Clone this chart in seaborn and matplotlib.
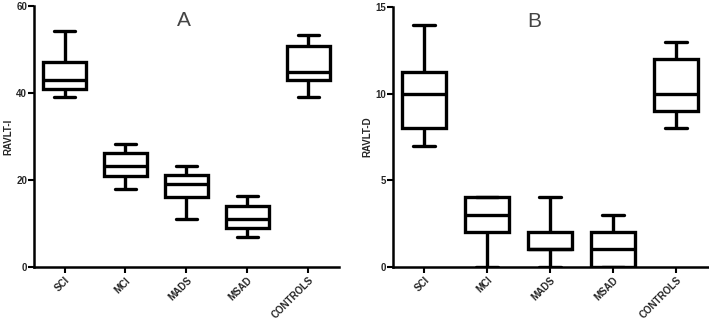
import pandas as pd
import matplotlib
matplotlib.use("Agg")
import matplotlib.pyplot as plt
import seaborn as sns

# groups
groups = ["SCI", "MCI", "MADS", "MSAD", "CONTROLS"]

# panel A: RAVLT-I five-number summaries (min, q1, median, q3, max)
ravlt_i_min = [39, 18, 11, 7, 39]
ravlt_i_q1 = [41, 21, 16, 9, 43]
ravlt_i_med = [43, 23.3, 19, 11, 44.8]
ravlt_i_q3 = [47.2, 26.2, 21.2, 14.1, 50.7]
ravlt_i_max = [54.2, 28.3, 23.2, 16.2, 53.3]

# panel B: RAVLT-D five-number summaries
ravlt_d_min = [7, 0, 0, 0, 8]
ravlt_d_q1 = [8, 2, 1, 0, 9]
ravlt_d_med = [10, 3, 1, 1, 10]
ravlt_d_q3 = [11.25, 4, 2, 2, 12]
ravlt_d_max = [14, 4, 4, 3, 13]


def make_df(mins, q1s, meds, q3s, maxs):
    # 5 points per group -> quartiles land exactly on q1/median/q3
    rows = []
    for g, a, b, c, d, e in zip(groups, mins, q1s, meds, q3s, maxs):
        for v in (a, b, c, d, e):
            rows.append({"group": g, "value": v})
    return pd.DataFrame(rows)


df_a = make_df(ravlt_i_min, ravlt_i_q1, ravlt_i_med, ravlt_i_q3, ravlt_i_max)
df_b = make_df(ravlt_d_min, ravlt_d_q1, ravlt_d_med, ravlt_d_q3, ravlt_d_max)

sns.set_style("ticks")
plt.rcParams["font.family"] = ["Liberation Sans", "DejaVu Sans"]

fig = plt.figure(figsize=(7.09, 3.28), dpi=100)
ax1 = fig.add_axes([0.048, 0.186, 0.430, 0.796])
ax2 = fig.add_axes([0.554, 0.187, 0.444, 0.791])

lw = 2.4
line_kws = dict(color="black", linewidth=lw)

for ax, df, ylim, yticks, ylabel, title, tx in [
    (ax1, df_a, 60, [0, 20, 40, 60], "RAVLT-I", "A", 0.49),
    (ax2, df_b, 15, [0, 5, 10, 15], "RAVLT-D", "B", 0.45),
]:
    sns.boxplot(data=df, x="group", y="value", order=groups, ax=ax,
                whis=(0, 100), width=0.7, color="white", linecolor="black",
                linewidth=lw, fliersize=0,
                boxprops=dict(edgecolor="black", linewidth=lw),
                whiskerprops=line_kws, capprops=line_kws, medianprops=line_kws)
    ax.set_xlim(-0.5, 4.5)
    ax.set_ylim(0, ylim)
    ax.set_yticks(yticks)
    ax.set_xlabel("")
    ax.set_ylabel(ylabel, fontsize=7, fontweight="bold", labelpad=2)
    sns.despine(ax=ax)
    for s in ["left", "bottom"]:
        ax.spines[s].set_linewidth(1.8)
        ax.spines[s].set_color("black")
    ax.tick_params(axis="both", width=1.5, length=4, color="black")
    ax.tick_params(axis="y", labelsize=7, pad=1)
    ax.tick_params(axis="x", labelsize=7, pad=2)
    for lbl in ax.get_yticklabels():
        lbl.set_fontweight("bold")
    for lbl in ax.get_xticklabels():
        lbl.set_fontweight("bold")
        lbl.set_rotation(45)
        lbl.set_ha("right")
        lbl.set_rotation_mode("anchor")
    ax.text(tx, 0.98, title, transform=ax.transAxes, ha="center", va="top",
            fontsize=15, color="#444444")

fig.savefig("out.png", dpi=100)
